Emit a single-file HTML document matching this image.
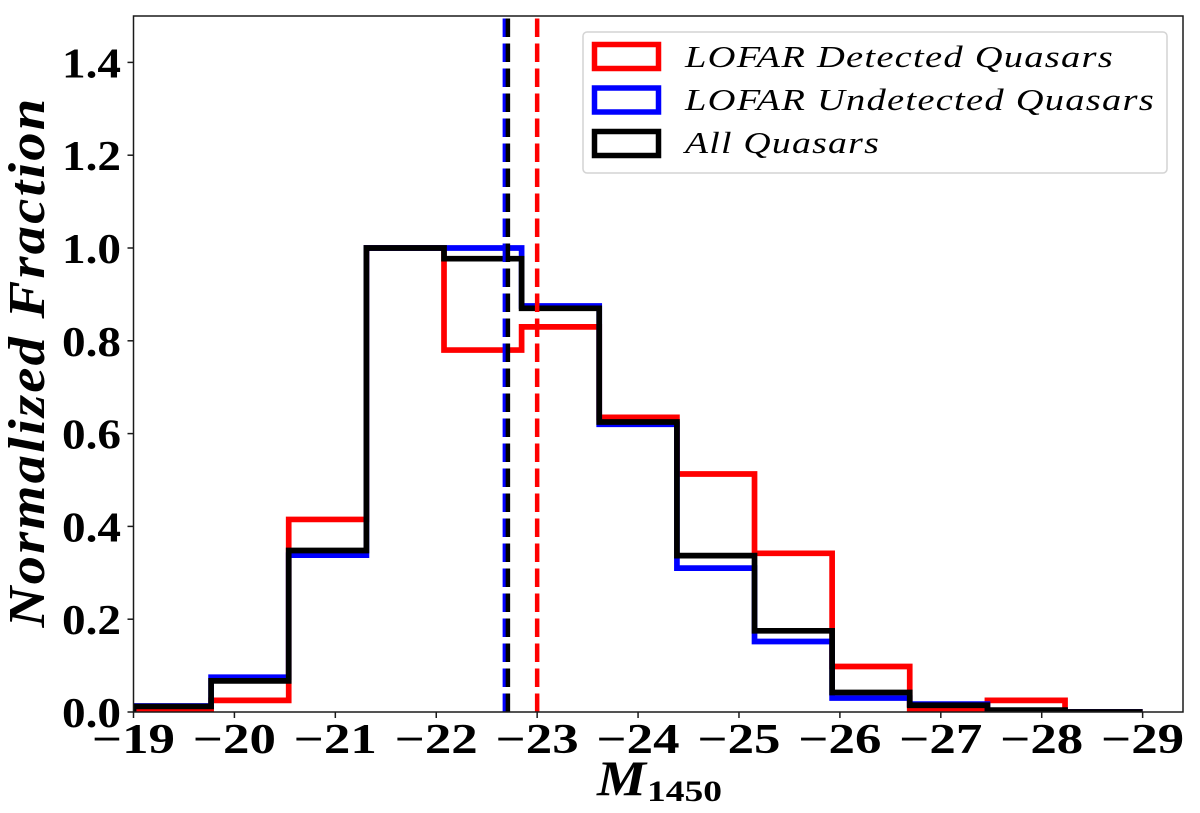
<!DOCTYPE html>
<html lang="en">
<head>
<meta charset="utf-8">
<title>Normalized M1450 histogram</title>
<style>
  html, body { margin: 0; padding: 0; background: #fff; }
  svg { display: block; }
  text { font-family: "Liberation Serif", serif; fill: #000; }
  .tick { font-weight: bold; font-size: 42px; }
  .leg { font-style: italic; font-size: 31px; letter-spacing: 1px; }
</style>
</head>
<body>
<svg id="chart" xmlns="http://www.w3.org/2000/svg" width="1200" height="813" viewBox="0 0 1200 813">
  <defs>
    <clipPath id="plot-clip"><rect x="133.5" y="16" width="1049.5" height="696"></rect></clipPath>
  </defs>
  <rect x="0" y="0" width="1200" height="813" fill="#fff"></rect>
  <g id="series" clip-path="url(#plot-clip)"></g>
  <g id="axes"></g>
  <text transform="translate(44,362) rotate(-90)" text-anchor="middle" font-size="52" font-weight="bold" font-style="italic" letter-spacing="2" textLength="531" lengthAdjust="spacingAndGlyphs">Normalized Fraction</text>
  <g>
    <text x="597" y="795" font-size="50" font-weight="bold" font-style="italic" textLength="49" lengthAdjust="spacingAndGlyphs">M</text>
    <text x="647" y="801" font-size="30" font-weight="bold" textLength="75" lengthAdjust="spacingAndGlyphs">1450</text>
  </g>
  <g>
    <rect x="583" y="32" width="584" height="141" rx="4" ry="4" fill="#fff" fill-opacity="0.85" stroke="#d4d4d4" stroke-width="1.5"></rect>
    <rect x="594.5" y="44.5" width="64" height="24" fill="none" stroke="#ff0000" stroke-width="5.5"></rect>
    <text class="leg" x="685" y="67" textLength="429" lengthAdjust="spacingAndGlyphs">LOFAR Detected Quasars</text>
    <rect x="594.5" y="88" width="64" height="24" fill="none" stroke="#0000ff" stroke-width="5.5"></rect>
    <text class="leg" x="685" y="110" textLength="470" lengthAdjust="spacingAndGlyphs">LOFAR Undetected Quasars</text>
    <rect x="594.5" y="131.5" width="64" height="24" fill="none" stroke="#000000" stroke-width="5.5"></rect>
    <text class="leg" x="685" y="153" textLength="195" lengthAdjust="spacingAndGlyphs">All Quasars</text>
  </g>
</svg>
<script>
const binEdges = [-19, -19.769, -20.538, -21.308, -22.077, -22.846, -23.615, -24.385, -25.154, -25.923, -26.692, -27.462, -28.231, -29];
const detectedValues = [0.004, 0.025, 0.415, 1.0, 0.78, 0.83, 0.635, 0.513, 0.342, 0.098, 0.003, 0.025, 0.0];
const undetectedValues = [0.013, 0.075, 0.338, 1.0, 1.0, 0.875, 0.62, 0.31, 0.152, 0.03, 0.017, 0.003, 0.0];
const allValues = [0.012, 0.067, 0.348, 1.0, 0.977, 0.87, 0.625, 0.337, 0.175, 0.042, 0.0145, 0.004, 0.0];
const detectedMedian = -23.0;
const undetectedMedian = -22.68;
const allMedian = -22.71;
const xTicks = [-19, -20, -21, -22, -23, -24, -25, -26, -27, -28, -29];
const yTicks = [0.0, 0.2, 0.4, 0.6, 0.8, 1.0, 1.2, 1.4];

const NS = 'http://www.w3.org/2000/svg';
const plotLeft = 133.5, plotRight = 1183, plotTop = 16, plotBottom = 712;
const xDomainLeft = -19, xDomainRight = -29.4, yMax = 1.5;
const xScale = v => plotLeft + (v - xDomainLeft) / (xDomainRight - xDomainLeft) * (plotRight - plotLeft);
const yScale = v => plotBottom - v / yMax * (plotBottom - plotTop);

const seriesGroup = document.getElementById('series');
const axesGroup = document.getElementById('axes');

function make(tag, attrs, parent) {
  const el = document.createElementNS(NS, tag);
  for (const k in attrs) el.setAttribute(k, attrs[k]);
  parent.appendChild(el);
  return el;
}

function stepPath(values) {
  let d = 'M' + xScale(binEdges[0]) + ',' + yScale(0);
  values.forEach((v, i) => {
    d += 'L' + xScale(binEdges[i]) + ',' + yScale(v);
    d += 'L' + xScale(binEdges[i + 1]) + ',' + yScale(v);
  });
  d += 'L' + xScale(binEdges[binEdges.length - 1]) + ',' + yScale(0);
  return d;
}

const detectedLine = make('path', {d: stepPath(detectedValues), fill: 'none', stroke: '#ff0000', 'stroke-width': 5.7, 'stroke-linejoin': 'miter'}, seriesGroup);



const undetectedLine = make('path', {d: stepPath(undetectedValues), fill: 'none', stroke: '#0000ff', 'stroke-width': 5.7, 'stroke-linejoin': 'miter'}, seriesGroup);



const allLine = make('path', {d: stepPath(allValues), fill: 'none', stroke: '#000000', 'stroke-width': 5.7, 'stroke-linejoin': 'miter'}, seriesGroup);



function medianLine(v, color) {
  return make('line', {x1: xScale(v), x2: xScale(v), y1: yScale(0), y2: yScale(yMax), stroke: color, 'stroke-width': 4.5, 'stroke-dasharray': '18.5 6.5'}, seriesGroup);
}
const detectedMedianLine = medianLine(detectedMedian, '#ff0000');


const undetectedMedianLine = medianLine(undetectedMedian, '#0000ff');


const allMedianLine = medianLine(allMedian, '#000000');



const frame = make('rect', {x: plotLeft, y: plotTop, width: plotRight - plotLeft, height: plotBottom - plotTop, fill: 'none', stroke: '#1a1a1a', 'stroke-width': 1.5}, axesGroup);



xTicks.forEach(t => {
  const x = xScale(t);
  const mark = make('line', {x1: x, x2: x, y1: plotBottom, y2: plotBottom + 6, stroke: '#1a1a1a', 'stroke-width': 1.5}, axesGroup);
  
  
  const label = make('text', {x: x - 41.5, y: 753, class: 'tick', textLength: 83, lengthAdjust: 'spacingAndGlyphs'}, axesGroup);
  
  
  label.textContent = '\u2212' + Math.abs(t);
});

yTicks.forEach(t => {
  const y = yScale(t);
  const mark = make('line', {x1: plotLeft - 6, x2: plotLeft, y1: y, y2: y, stroke: '#1a1a1a', 'stroke-width': 1.5}, axesGroup);
  
  
  const label = make('text', {x: 62, y: y + 15, class: 'tick', textLength: 59, lengthAdjust: 'spacingAndGlyphs'}, axesGroup);
  
  
  label.textContent = t.toFixed(1);
});
</script>
</body>
</html>
